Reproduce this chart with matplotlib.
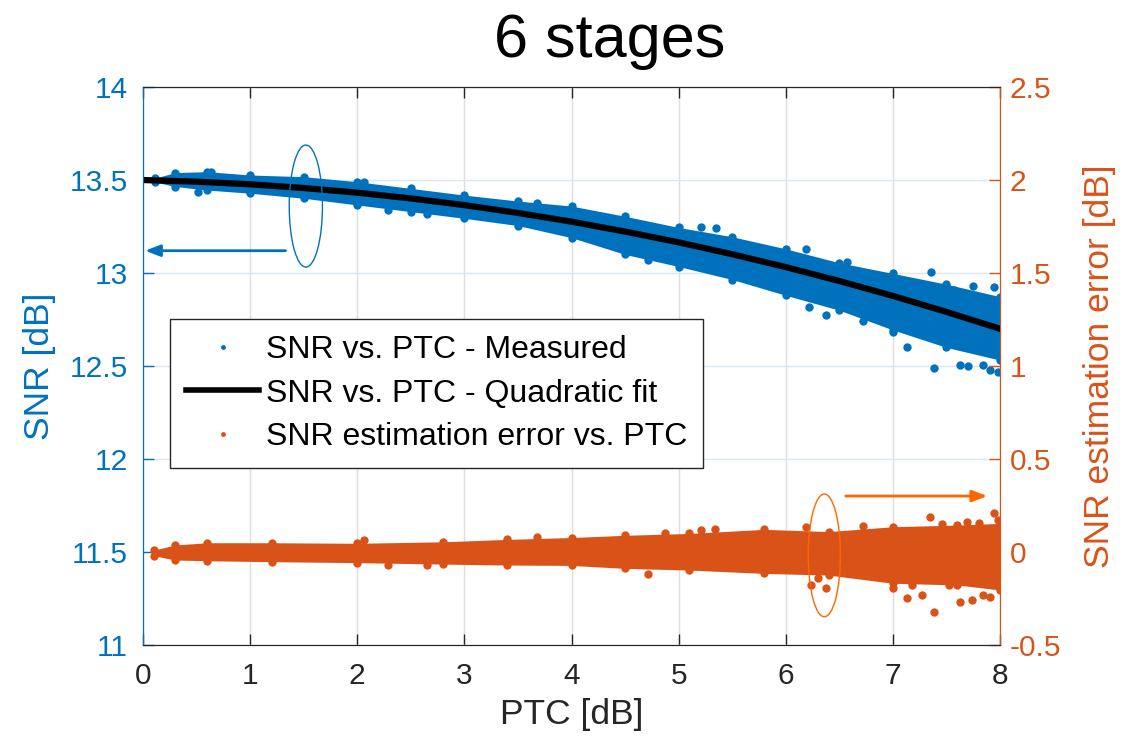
import matplotlib.pyplot as plt
from matplotlib.lines import Line2D
from matplotlib.patches import Ellipse

plt.rcParams['font.family'] = ['Liberation Sans', 'DejaVu Sans']

BLUE = '#0072BD'
ORANGE = '#D95319'
BRIGHT_ORANGE = '#FF6600'
DARK = '#262626'

# quadratic fit, read at every 0.5 dB of PTC
fit_x = [0, 0.5, 1, 1.5, 2, 2.5, 3, 3.5, 4, 4.5, 5, 5.5, 6, 6.5, 7, 7.5, 8]
fit_y = [13.50, 13.491, 13.477, 13.457, 13.432, 13.401, 13.365, 13.323, 13.276,
         13.223, 13.165, 13.101, 13.032, 12.957, 12.877, 12.791, 12.70]

# dense cloud of measured SNR: upper / lower edge
snr_x = [0.11, 0.3, 0.6, 1.0, 1.5, 2.0, 2.5, 3.0, 3.5, 4.0, 4.5, 5.0, 5.5, 6.0,
         6.5, 7.0, 7.5, 8.0]
snr_hi = [13.51, 13.54, 13.545, 13.527, 13.518, 13.491, 13.455, 13.419, 13.387,
          13.36, 13.305, 13.245, 13.195, 13.13, 13.055, 12.998, 12.94, 12.873]
snr_lo = [13.49, 13.465, 13.446, 13.429, 13.402, 13.366, 13.33, 13.294, 13.255,
          13.19, 13.10, 13.035, 12.965, 12.88, 12.80, 12.694, 12.60, 12.532]

# stray measured points outside the dense cloud
snr_out_x = [0.51, 0.63, 2.06, 2.29, 2.65, 3.68, 4.71, 5.21, 5.35, 6.19, 6.22,
             6.38, 6.57, 6.72, 7.0, 7.13, 7.36, 7.38, 7.57, 7.63, 7.70, 7.75,
             7.84, 7.91, 7.94, 7.98]
snr_out_y = [13.438, 13.545, 13.49, 13.339, 13.32, 13.378, 13.07, 13.25, 13.24,
             13.13, 12.82, 12.774, 13.06, 12.74, 12.685, 12.604, 13.008, 12.49,
             12.91, 12.505, 12.50, 12.93, 12.505, 12.48, 12.927, 12.47]

# estimation error cloud: upper / lower edge
err_x = [0.1, 0.3, 0.6, 1.2, 2.0, 2.8, 3.4, 4.0, 4.5, 5.1, 5.8, 6.4, 7.0, 7.6, 8.0]
err_hi = [0.01, 0.038, 0.05, 0.05, 0.047, 0.055, 0.068, 0.078, 0.09, 0.10,
          0.122, 0.11, 0.136, 0.145, 0.154]
err_lo = [-0.02, -0.043, -0.047, -0.052, -0.057, -0.065, -0.07, -0.072, -0.088,
          -0.097, -0.115, -0.124, -0.168, -0.177, -0.204]

err_out_x = [2.06, 2.29, 2.65, 3.68, 4.71, 4.87, 5.21, 5.34, 6.19, 6.24, 6.30,
             6.38, 6.72, 7.0, 7.13, 7.18, 7.27, 7.35, 7.38, 7.46, 7.52, 7.63,
             7.69, 7.74, 7.80, 7.84, 7.91, 7.94, 7.98]
err_out_y = [0.065, -0.07, -0.07, 0.082, -0.12, 0.104, 0.118, 0.122, 0.136,
             -0.177, -0.141, -0.195, 0.14, -0.195, -0.249, -0.177, -0.231, 0.19,
             -0.321, 0.149, -0.177, -0.267, 0.163, -0.258, 0.158, -0.231, -0.24,
             0.208, 0.172]

x_ticks = [0, 1, 2, 3, 4, 5, 6, 7, 8]
left_ticks = [11, 11.5, 12, 12.5, 13, 13.5, 14]
right_ticks = [-0.5, 0, 0.5, 1, 1.5, 2, 2.5]

fig = plt.figure(figsize=(11.36, 7.47), dpi=100)
ax = fig.add_axes([0.1259, 0.1365, 0.7544, 0.7470])
ax2 = ax.twinx()

MS = 6

# left axis: measured SNR and fit
ax.fill_between(snr_x, snr_lo, snr_hi, color=BLUE, lw=0, zorder=2)
ax.plot(snr_x, snr_hi, 'o', color=BLUE, ms=MS, mew=0, zorder=2)
ax.plot(snr_x, snr_lo, 'o', color=BLUE, ms=MS, mew=0, zorder=2)
ax.plot(snr_out_x, snr_out_y, 'o', color=BLUE, ms=MS, mew=0, zorder=2)
ax.plot(fit_x, fit_y, color='black', lw=4.5, zorder=3)

# right axis: estimation error
ax2.fill_between(err_x, err_lo, err_hi, color=ORANGE, lw=0, zorder=2)
ax2.plot(err_x, err_hi, 'o', color=ORANGE, ms=MS, mew=0, zorder=2)
ax2.plot(err_x, err_lo, 'o', color=ORANGE, ms=MS, mew=0, zorder=2)
ax2.plot(err_out_x, err_out_y, 'o', color=ORANGE, ms=MS, mew=0, zorder=2)

# ellipses and arrows marking which axis goes with which series
ax.add_patch(Ellipse((1.52, 13.36), 0.31, 0.656, fill=False, ec=BLUE, lw=1, zorder=4))
ax.annotate('', xy=(0.02, 13.12), xytext=(1.33, 13.12),
            arrowprops=dict(arrowstyle='-|>,head_length=0.9,head_width=0.35',
                            color=BLUE, lw=2, shrinkA=0, shrinkB=0))
ax2.add_patch(Ellipse((6.36, -0.018), 0.30, 0.66, fill=False, ec=BRIGHT_ORANGE,
                      lw=1, zorder=4))
ax2.annotate('', xy=(7.88, 0.301), xytext=(6.56, 0.301),
             arrowprops=dict(arrowstyle='-|>,head_length=0.9,head_width=0.35',
                             color=BRIGHT_ORANGE, lw=2, shrinkA=0, shrinkB=0))

ax.set_xlim(0, 8)
ax.set_ylim(11, 14)
ax2.set_ylim(-0.5, 2.5)
ax.set_xticks(x_ticks)
ax.set_yticks(left_ticks)
ax.set_yticklabels(['11', '11.5', '12', '12.5', '13', '13.5', '14'])
ax2.set_yticks(right_ticks)
ax2.set_yticklabels(['-0.5', '0', '0.5', '1', '1.5', '2', '2.5'])

ax.grid(axis='x', color='#dedede', lw=1)
ax.grid(axis='y', color='#dbe8f3', lw=1)
ax.set_axisbelow(True)

ax.tick_params(axis='x', direction='in', length=8, width=1, top=True,
               colors=DARK, labelsize=21.5, pad=12)
ax.tick_params(axis='y', direction='in', length=8, width=1, colors=BLUE,
               labelsize=21.5, pad=11)
ax2.tick_params(axis='y', direction='in', length=8, width=1, colors=ORANGE,
                labelsize=21.5, pad=7)

for a in (ax, ax2):
    a.spines['top'].set_color(DARK)
    a.spines['bottom'].set_color(DARK)
ax.spines['left'].set_color(BLUE)
ax2.spines['left'].set_color(BLUE)
ax2.spines['right'].set_color(ORANGE)
ax.spines['right'].set_color(ORANGE)

ax.set_xlabel('PTC [dB]', fontsize=25.5, color=DARK, labelpad=6)
ax.set_ylabel('SNR [dB]', fontsize=25.5, color=BLUE, labelpad=10)
ax2.set_ylabel('SNR estimation error [dB]', fontsize=25.5, color=ORANGE, labelpad=16)

fig.text(0.537, 0.944, '6 stages', fontsize=44, ha='center', va='center')

handles = [
    Line2D([], [], ls='none', marker='o', ms=3.5, mew=0, color=BLUE),
    Line2D([], [], color='black', lw=4),
    Line2D([], [], ls='none', marker='o', ms=3.5, mew=0, color=ORANGE),
]
labels = ['SNR vs. PTC - Measured', 'SNR vs. PTC - Quadratic fit',
          'SNR estimation error vs. PTC']
leg = ax2.legend(handles, labels, loc='upper left', bbox_to_anchor=(0.0315, 0.584),
                 borderaxespad=0, fontsize=23, fancybox=False, framealpha=1,
                 edgecolor=DARK, handlelength=2.3, handletextpad=0.2,
                 labelspacing=0.42, borderpad=0.5)
leg.get_frame().set_linewidth(1)
leg.set_zorder(10)

fig.savefig('out.png', dpi=100)
